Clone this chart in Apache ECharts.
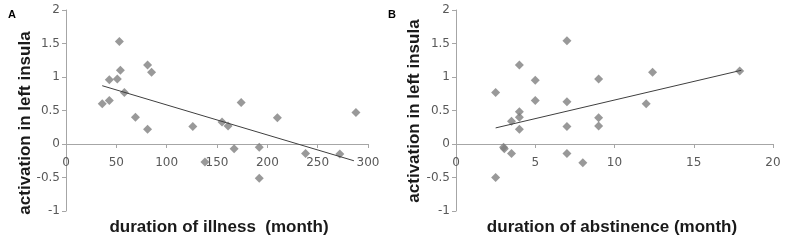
<!DOCTYPE html>
<html>
<head>
<meta charset="utf-8">
<script src="https://cdn.jsdelivr.net/npm/echarts@6/dist/echarts.min.js"></script>
<style>
  html, body { margin: 0; padding: 0; background: #fff; }
</style>
</head>
<body>
<div id="chart" style="width:789px;height:244px;"></div>
<script>
// panel A: duration of illness (month) vs activation
const illnessX = [36, 43, 43, 51, 53, 54, 58, 69, 81, 81, 85, 126, 138, 155, 161, 167, 174, 192, 192, 210, 238, 272, 288];
const illnessY = [0.60, 0.96, 0.65, 0.97, 1.53, 1.10, 0.77, 0.40, 1.18, 0.22, 1.07, 0.26, -0.27, 0.33, 0.27, -0.07, 0.62, -0.05, -0.51, 0.39, -0.14, -0.15, 0.47];
const illnessTrend = [[36, 0.87], [286, -0.25]];

// panel B: duration of abstinence (month) vs activation
const abstX = [2.5, 2.5, 3, 3.05, 3.5, 3.5, 4, 4, 4, 4, 5, 5, 7, 7, 7, 7, 8, 9, 9, 9, 12, 12.4, 17.9];
const abstY = [0.77, -0.50, -0.05, -0.07, 0.34, -0.14, 1.18, 0.48, 0.40, 0.22, 0.95, 0.65, 1.54, 0.63, 0.26, -0.14, -0.28, 0.97, 0.39, 0.27, 0.60, 1.07, 1.09];
const abstTrend = [[2.5, 0.24], [18, 1.1]];

const yMin = -1, yMax = 2, yStep = 0.5;
const xAxisA = { min: 0, max: 300, step: 50 };
const xAxisB = { min: 0, max: 20, step: 5 };

const pairs = (xs, ys) => xs.map((x, i) => [x, ys[i]]);

const gridH = 201;
const grey = '#a6a6a6';
const labelStyle = { color: '#595959', fontSize: 12, fontFamily: 'DejaVu Sans' };

// x axis sits on the y = 0 line, like the Excel original
const zeroOffset = -gridH * (0 - yMin) / (yMax - yMin);

function makeX(idx, ax) {
    return {
        gridIndex: idx, type: 'value', min: ax.min, max: ax.max, interval: ax.step,
        offset: zeroOffset,
        axisLine: { onZero: false, lineStyle: { color: grey } },
        axisTick: { show: true, inside: false, length: 4, lineStyle: { color: grey } },
        axisLabel: Object.assign({ margin: 13 }, labelStyle),
        splitLine: { show: false }
    };
}
function makeY(idx) {
    return {
        gridIndex: idx, type: 'value', min: yMin, max: yMax, interval: yStep,
        axisLine: { show: true, onZero: false, lineStyle: { color: grey } },
        axisTick: { show: true, inside: false, length: 4, lineStyle: { color: grey } },
        axisLabel: Object.assign({ margin: 6 }, labelStyle),
        splitLine: { show: false }
    };
}
function titleText(x, y, text, rotate) {
    return {
        type: 'text', x: x, y: y, rotation: rotate ? Math.PI / 2 : 0,
        style: {
            text: text, fill: '#1a1a1a', font: 'bold 17px "Liberation Sans", Arial, sans-serif',
            textAlign: 'center', textVerticalAlign: 'middle'
        }
    };
}

const chart = echarts.init(document.getElementById('chart'), null, { renderer: 'canvas' });
chart.setOption({
    animation: false,
    grid: [
        { left: 66, top: 10, width: 302, height: gridH },
        { left: 456, top: 10, width: 317, height: gridH }
    ],
    xAxis: [makeX(0, xAxisA), makeX(1, xAxisB)],
    yAxis: [makeY(0), makeY(1)],
    graphic: [
        { type: 'text', x: 12, y: 15, style: { text: 'A', fill: '#000', font: 'bold 11px "Liberation Sans", Arial', textAlign: 'center', textVerticalAlign: 'middle' } },
        { type: 'text', x: 392, y: 15, style: { text: 'B', fill: '#000', font: 'bold 11px "Liberation Sans", Arial', textAlign: 'center', textVerticalAlign: 'middle' } },
        titleText(25, 123, 'activation in left insula', true),
        titleText(414, 111, 'activation in left insula', true),
        titleText(219, 227, 'duration of illness  (month)', false),
        titleText(612, 227, 'duration of abstinence (month)', false)
    ],
    series: [
        {
            type: 'scatter', xAxisIndex: 0, yAxisIndex: 0, symbol: 'diamond', symbolSize: 9,
            itemStyle: { color: '#7f7f7f' }, data: pairs(illnessX, illnessY)
        },
        {
            type: 'line', xAxisIndex: 0, yAxisIndex: 0, showSymbol: false, symbol: 'none',
            lineStyle: { color: '#3f3f3f', width: 1 }, data: illnessTrend, z: 3
        },
        {
            type: 'scatter', xAxisIndex: 1, yAxisIndex: 1, symbol: 'diamond', symbolSize: 9,
            itemStyle: { color: '#7f7f7f' }, data: pairs(abstX, abstY)
        },
        {
            type: 'line', xAxisIndex: 1, yAxisIndex: 1, showSymbol: false, symbol: 'none',
            lineStyle: { color: '#3f3f3f', width: 1 }, data: abstTrend, z: 3
        }
    ]
});
</script>
</body>
</html>
